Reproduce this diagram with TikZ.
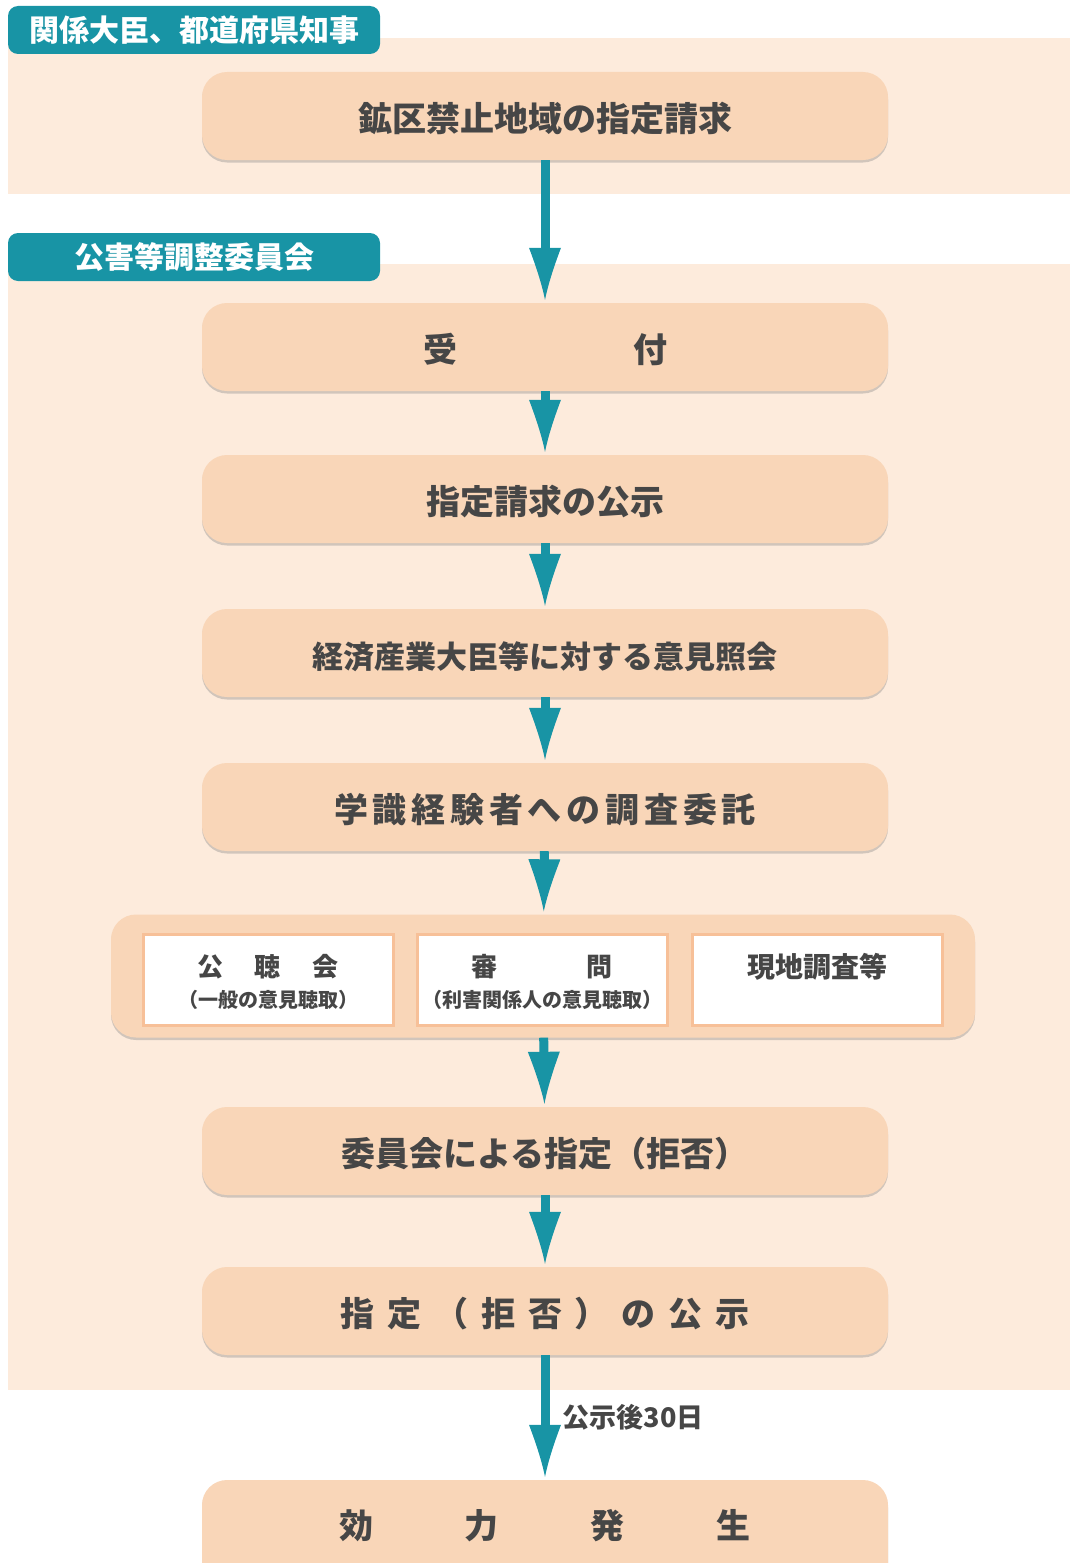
\documentclass[tikz,border=0pt]{standalone}
\usepackage{fontspec}
\setmainfont{Noto Sans CJK JP}
\usetikzlibrary{arrows.meta,shadows}

\definecolor{bandfill}{RGB}{253,235,220}
\definecolor{boxfill}{RGB}{249,214,184}
\definecolor{tealtag}{RGB}{24,148,165}
\definecolor{inkgray}{RGB}{70,70,70}
\definecolor{rimpeach}{RGB}{247,192,152}

% arrow head with hollowed sides
\pgfdeclarearrow{
  name=Dart,
  parameters={\the\pgfarrowlength,\the\pgfarrowwidth},
  setup code={
    \pgfarrowssettipend{0pt}
    \pgfarrowssetlineend{-.9\pgfarrowlength}
    \pgfarrowssetbackend{-\pgfarrowlength}
    \pgfarrowshullpoint{0pt}{0pt}
    \pgfarrowshullpoint{-\pgfarrowlength}{.5\pgfarrowwidth}
    \pgfarrowshullpoint{-\pgfarrowlength}{-.5\pgfarrowwidth}
    \pgfarrowssavethe\pgfarrowlength
    \pgfarrowssavethe\pgfarrowwidth
  },
  drawing code={
    \pgfpathmoveto{\pgfpoint{-\pgfarrowlength}{.5\pgfarrowwidth}}
    \pgfpathquadraticcurveto{\pgfpoint{-.4\pgfarrowlength}{.13\pgfarrowwidth}}{\pgfpointorigin}
    \pgfpathquadraticcurveto{\pgfpoint{-.4\pgfarrowlength}{-.13\pgfarrowwidth}}{\pgfpoint{-\pgfarrowlength}{-.5\pgfarrowwidth}}
    \pgfpathclose
    \pgfusepathqfill
  },
  defaults={length=50pt, width=30pt}
}

\tikzset{
  stepbox/.style={fill=boxfill, rounded corners=25pt, minimum width=686pt, minimum height=88pt,
    inner sep=0pt, text height=30pt, text depth=0pt, text=inkgray, font=\fontsize{34}{40}\selectfont\bfseries,
    drop shadow={shadow xshift=0pt, shadow yshift=-2.5pt, opacity=0.35, fill=gray}},
  tagbox/.style={fill=tealtag, rounded corners=10pt, minimum width=372pt, minimum height=48pt,
    inner sep=0pt, text=white, font=\fontsize{30}{34}\selectfont\bfseries},
  hearbox/.style={fill=white, draw=rimpeach, line width=3pt, minimum width=250pt, minimum height=91pt},
  hearhead/.style={text=inkgray, font=\fontsize{26}{30}\selectfont\bfseries},
  hearsub/.style={text=inkgray, font=\fontsize{20}{24}\selectfont\bfseries},
  flow/.style={draw=tealtag, line width=9pt, -{Dart[length=52pt,width=32pt]}, shorten >=3pt},
}

\begin{document}
\begin{tikzpicture}[x=1pt,y=-1pt]
\useasboundingbox (0,0) rectangle (1070,1563);
% bands
\fill[bandfill] (8,38) rectangle (1070,194);
\fill[bandfill] (8,264) rectangle (1070,1390);
% tags
\node[tagbox] (minister) at (194,30) {関係大臣、都道府県知事};
\node[tagbox] (committee) at (194,257) {公害等調整委員会};

% steps
\node[stepbox] (request) at (545,116) {鉱区禁止地域の指定請求};
\node[stepbox] (accept) at (545,347) {受\hspace{176pt}付};
\node[stepbox] (notice) at (545,499) {指定請求の公示};
\node[stepbox, font=\fontsize{31}{38}\selectfont\bfseries] (inquiry) at (545,653) {経済産業大臣等に対する意見照会};
\node[stepbox, font=\fontsize{34}{40}\selectfont\bfseries\addfontfeatures{LetterSpace=14}] (survey) at (545,807) {学識経験者への調査委託};

% hearings group
\node[stepbox, minimum width=864pt, minimum height=123pt] (hearings) at (543,976) {};
\node[hearbox] (public) at (268,980) {};
\node[hearbox] (party) at (542,980) {};
\node[hearbox] (site) at (817,980) {};
\node[hearhead] (publichead) at (268,967) {公\hspace{32pt}聴\hspace{32pt}会};
\node[hearsub] (publicsub) at (268,1000) {（一般の意見聴取）};
\node[hearhead] (partyhead) at (542,967) {審\hspace{89pt}問};
\node[hearsub] (partysub) at (542,1000) {（利害関係人の意見聴取）};
\node[hearhead, font=\fontsize{28}{32}\selectfont\bfseries] (sitehead) at (817,967) {現地調査等};

\node[stepbox] (decision) at (545,1151) {委員会による指定（拒否）};
\node[stepbox, font=\fontsize{34}{40}\selectfont\bfseries\addfontfeatures{LetterSpace=38}] (publish) at (545,1311) {指定（拒否）の公示\hspace{-13pt}};
\node[stepbox, minimum height=136pt, text depth=50pt] (effect) at (545,1548)
  {効\hspace{92pt}力\hspace{92pt}発\hspace{92pt}生};

% arrows
\draw[flow] (request) -- (accept);
\draw[flow] (accept) -- (notice);
\draw[flow] (notice) -- (inquiry);
\draw[flow] (inquiry) -- (survey);
\draw[flow] (survey) -- (hearings);
\draw[flow] (hearings) -- (decision);
\draw[flow] (decision) -- (publish);
\draw[flow] (publish) -- node[anchor=west, xshift=10pt, text=inkgray, font=\fontsize{27}{32}\selectfont\bfseries] (term) {公示後30日} (effect);

\end{tikzpicture}
\end{document}
